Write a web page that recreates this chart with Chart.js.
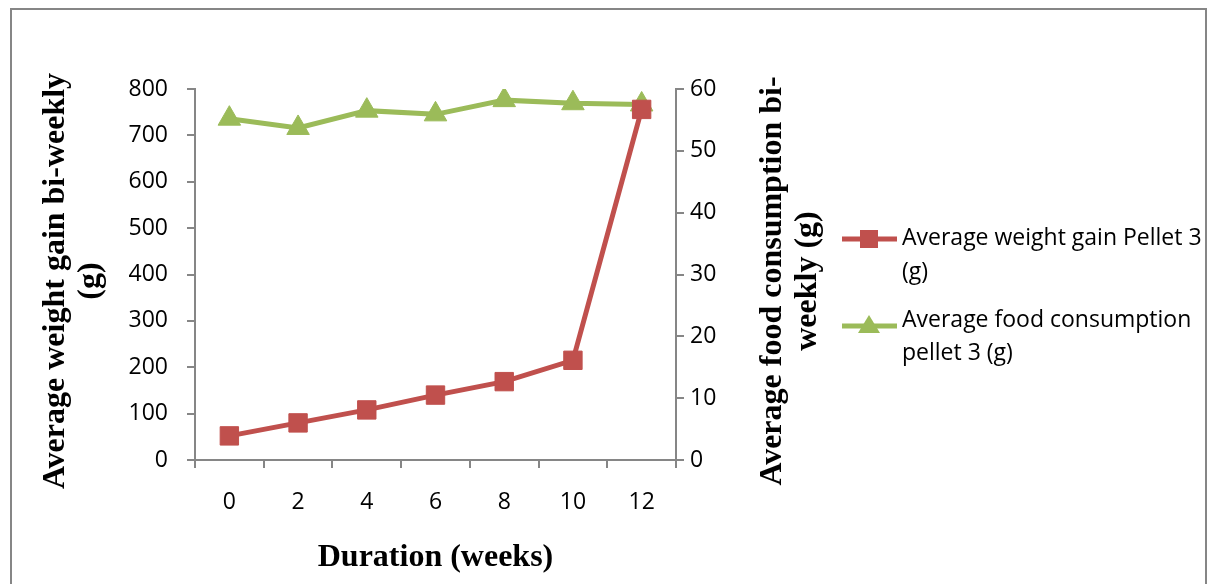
<!DOCTYPE html>
<html>
<head>
<meta charset="utf-8">
<script src="https://cdn.jsdelivr.net/npm/chart.js@4/dist/chart.umd.min.js"></script>
<style>
html,body{margin:0;padding:0;background:#fff;}
#wrap{position:relative;width:1209px;height:584px;}
</style>
</head>
<body>
<div id="wrap"><canvas id="c" width="1209" height="584"></canvas></div>
<script>
const weeks = ['0','2','4','6','8','10','12'];
const weightGain = [52, 80, 108, 140, 169, 215, 756];
const foodConsumption = [55.2, 53.7, 56.5, 55.9, 58.2, 57.7, 57.5];
const seriesNames = ['Average weight gain Pellet 3 (g)', 'Average food consumption pellet 3 (g)'];
const legendLines = [['Average weight gain Pellet 3', '(g)'], ['Average food consumption', 'pellet 3 (g)']];
const leftTitle = ['Average weight gain bi-weekly', '(g)'];
const rightTitle = ['Average food consumption bi-', 'weekly (g)'];
const xTitle = 'Duration (weeks)';

const RED = '#C0504D', GREEN = '#9BBB59', AXIS = '#868686';
const TICKFONT = {family: '"Open Sans"', size: 23};

const deco = {
  id: 'deco',
  beforeDraw(chart) {
    const ctx = chart.ctx;
    ctx.save();
    ctx.fillStyle = '#fff';
    ctx.fillRect(0, 0, chart.width, chart.height);
    ctx.strokeStyle = AXIS;
    ctx.lineWidth = 2;
    ctx.strokeRect(11, 9, 1195, 600);
    ctx.restore();
  },
  afterDraw(chart) {
    const ctx = chart.ctx;
    const a = chart.chartArea;
    ctx.save();
    ctx.fillStyle = '#000';
    ctx.font = 'bold 32px "Liberation Serif"';
    ctx.textAlign = 'center';
    ctx.textBaseline = 'middle';
    const cy = 281;
    [[56, leftTitle[0]], [91, leftTitle[1]]].forEach(([x, t]) => {
      ctx.save(); ctx.translate(x, cy); ctx.rotate(-Math.PI / 2); ctx.fillText(t, 0, 0); ctx.restore();
    });
    [[773, rightTitle[0]], [808, rightTitle[1]]].forEach(([x, t]) => {
      ctx.save(); ctx.translate(x, cy); ctx.rotate(-Math.PI / 2); ctx.fillText(t, 0, 0); ctx.restore();
    });
    ctx.fillText(xTitle, (a.left + a.right) / 2, 558);
    // legend
    ctx.font = '23px "Open Sans"';
    ctx.textAlign = 'left';
    const entries = [
      {color: RED, shape: 'rect', my: 239, ly: [238, 272]},
      {color: GREEN, shape: 'tri', my: 326, ly: [320, 353]}
    ];
    entries.forEach((e, i) => {
      ctx.strokeStyle = e.color; ctx.lineWidth = 5;
      ctx.beginPath(); ctx.moveTo(842, e.my); ctx.lineTo(897, e.my); ctx.stroke();
      ctx.fillStyle = e.color;
      if (e.shape === 'rect') {
        ctx.fillRect(869 - 9, e.my - 9, 18, 18);
      } else {
        ctx.beginPath(); ctx.moveTo(869, e.my - 11); ctx.lineTo(880, e.my + 7); ctx.lineTo(858, e.my + 7); ctx.closePath(); ctx.fill();
      }
      ctx.fillStyle = '#000';
      legendLines[i].forEach((t, j) => ctx.fillText(t, 902, e.ly[j]));
    });
    ctx.restore();
  }
};

new Chart(document.getElementById('c'), {
  type: 'line',
  data: {
    labels: weeks,
    datasets: [
      {label: seriesNames[0], data: weightGain, yAxisID: 'y', borderColor: RED, backgroundColor: RED,
       borderWidth: 5, pointStyle: 'rect', pointRadius: 13, pointBorderWidth: 1, tension: 0},
      {label: seriesNames[1], data: foodConsumption, yAxisID: 'y1', borderColor: GREEN, backgroundColor: GREEN,
       borderWidth: 5, pointStyle: 'triangle', pointRadius: 13, pointBorderWidth: 1, tension: 0}
    ]
  },
  options: {
    responsive: false,
    animation: false,
    devicePixelRatio: 1,
    layout: {padding: {top: 89, left: 0, right: 0, bottom: 0}},
    plugins: {legend: {display: false}, tooltip: {enabled: false}},
    scales: {
      x: {
        type: 'category', offset: true,
        grid: {offset: true, drawOnChartArea: false, drawTicks: true, tickLength: 8, color: AXIS, lineWidth: 2},
        border: {display: true, color: AXIS, width: 2},
        ticks: {color: '#000', font: TICKFONT, padding: 21, maxRotation: 0},
        afterFit(s) { s.height = 124; }
      },
      y: {
        position: 'left', min: 0, max: 800,
        grid: {drawOnChartArea: false, tickLength: 8, color: AXIS, lineWidth: 2},
        border: {display: true, color: AXIS, width: 2},
        ticks: {stepSize: 100, color: '#000', font: TICKFONT, padding: 19},
        afterFit(s) { s.width = 195; }
      },
      y1: {
        position: 'right', min: 0, max: 60,
        grid: {drawOnChartArea: false, tickLength: 8, color: AXIS, lineWidth: 2},
        border: {display: true, color: AXIS, width: 2},
        ticks: {stepSize: 10, color: '#000', font: TICKFONT, padding: 6},
        afterFit(s) { s.width = 533; }
      }
    }
  },
  plugins: [deco]
});
</script>
</body>
</html>
